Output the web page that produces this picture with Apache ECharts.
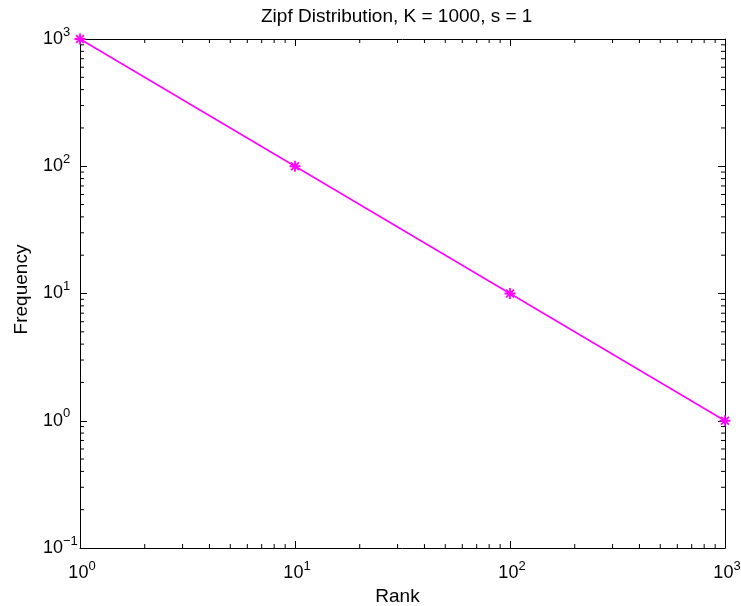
<!DOCTYPE html>
<html>
<head>
<meta charset="utf-8">
<script src="https://cdn.jsdelivr.net/npm/echarts@6/dist/echarts.min.js"></script>
<style>
  html, body { margin: 0; padding: 0; background: #fff; }
  #chart { width: 741px; height: 606px; }
</style>
</head>
<body>
<div id="chart"></div>
<script>
// Zipf law: frequency of the item at each rank
const ranks = [1, 10, 100, 1000];
const frequencies = [1000, 100, 10, 1];

// Axis ranges (log scale)
const xRange = [1, 1000];
const yRange = [0.1, 1000];

// Minor tick positions: mantissas 2..9 inside each decade
const minorMantissas = [2, 3, 4, 5, 6, 7, 8, 9];
const xDecades = [1, 10, 100];
const yDecades = [0.1, 1, 10, 100];

const FONT = 'Liberation Sans, Arial, Helvetica, sans-serif';
const INK = '#000';
const LINE = '#ff00ff';

const xMinorValues = [];
xDecades.forEach(d => minorMantissas.forEach(m => xMinorValues.push(d * m)));
const yMinorValues = [];
yDecades.forEach(d => minorMantissas.forEach(m => yMinorValues.push(+(d * m).toPrecision(3))));

function powerLabel(value) {
  const e = Math.round(Math.log10(value));
  const exp = e < 0 ? '\u2212' + (-e) : String(e);
  return '{b|10}{e|' + exp + '}';
}
function richFor(axis) {
  return {
    b: { fontSize: 18, fontFamily: FONT, color: INK, padding: axis === 'x' ? [0, 0, 0, 4] : 0 },
    e: { fontSize: 13, fontFamily: FONT, color: INK, padding: [0, 0, 14, 0] }
  };
}

const tickStyle = { inside: true, length: 7, lineStyle: { color: INK, width: 1 } };
const axisLine = { show: true, lineStyle: { color: INK, width: 1 } };
const MINOR_LEN = 4;

function minorLine(x1, y1, x2, y2) {
  return { type: 'line', shape: { x1, y1, x2, y2 }, style: { stroke: INK, lineWidth: 1 } };
}

const chart = echarts.init(document.getElementById('chart'), null, { renderer: 'canvas' });
chart.setOption({
  animation: false,
  backgroundColor: '#fff',
  title: {
    text: 'Zipf Distribution, K = 1000, s = 1',
    left: 256,
    top: 2,
    padding: 5,
    textStyle: { fontSize: 19, fontWeight: 'normal', color: INK, fontFamily: FONT }
  },
  grid: { left: 80, right: 16, top: 39, bottom: 58, containLabel: false, outerBoundsMode: 'none' },
  xAxis: [
    {
      type: 'log', logBase: 10, min: xRange[0], max: xRange[1], position: 'bottom',
      axisLine, axisTick: tickStyle, splitLine: { show: false }, minorTick: { show: false },
      axisLabel: { formatter: powerLabel, rich: richFor('x'), margin: 12 },
      name: 'Rank', nameLocation: 'middle', nameGap: 38,
      nameTextStyle: { fontSize: 19, color: INK, fontFamily: FONT, padding: [0, 10, 0, 0] }
    },
    {
      type: 'log', logBase: 10, min: xRange[0], max: xRange[1], position: 'top',
      axisLine, axisTick: tickStyle, splitLine: { show: false },
      axisLabel: { show: false }
    }
  ],
  yAxis: [
    {
      type: 'log', logBase: 10, min: yRange[0], max: yRange[1], position: 'left',
      axisLine, axisTick: tickStyle, splitLine: { show: false },
      axisLabel: { formatter: powerLabel, rich: richFor('y'), margin: 37, align: 'left' },
      name: 'Frequency', nameLocation: 'middle', nameGap: 49, nameRotate: 90,
      nameTextStyle: { fontSize: 19, color: INK, fontFamily: FONT, padding: [0, 0, 0, 8] }
    },
    {
      type: 'log', logBase: 10, min: yRange[0], max: yRange[1], position: 'right',
      axisLine, axisTick: tickStyle, splitLine: { show: false },
      axisLabel: { show: false }
    }
  ],
  series: [
    {
      // minor ticks along the bottom and top edges
      type: 'custom', coordinateSystem: 'cartesian2d', xAxisIndex: 0, yAxisIndex: 0,
      silent: true, clip: false,
      data: xMinorValues.map(v => [v, yRange[0]]),
      renderItem: function (params, api) {
        const b = api.coord([api.value(0), yRange[0]]);
        const t = api.coord([api.value(0), yRange[1]]);
        return {
          type: 'group',
          children: [
            minorLine(b[0], b[1], b[0], b[1] - MINOR_LEN),
            minorLine(t[0], t[1], t[0], t[1] + MINOR_LEN)
          ]
        };
      }
    },
    {
      // minor ticks along the left and right edges
      type: 'custom', coordinateSystem: 'cartesian2d', xAxisIndex: 0, yAxisIndex: 0,
      silent: true, clip: false,
      data: yMinorValues.map(v => [xRange[0], v]),
      renderItem: function (params, api) {
        const l = api.coord([xRange[0], api.value(1)]);
        const r = api.coord([xRange[1], api.value(1)]);
        return {
          type: 'group',
          children: [
            minorLine(l[0], l[1], l[0] + MINOR_LEN, l[1]),
            minorLine(r[0], r[1], r[0] - MINOR_LEN, r[1])
          ]
        };
      }
    },
    {
      name: 'Zipf',
      type: 'line',
      xAxisIndex: 0, yAxisIndex: 0,
      data: ranks.map((r, i) => [r, frequencies[i]]),
      clip: false,
      symbol: 'path://M0,-5L0,5M-5,0L5,0M-3.6,-3.6L3.6,3.6M-3.6,3.6L3.6,-3.6',
      symbolSize: 11,
      lineStyle: { color: LINE, width: 1.5 },
      itemStyle: { color: LINE, borderColor: LINE, borderWidth: 1.8 },
      z: 5
    }
  ]
});
</script>
</body>
</html>
